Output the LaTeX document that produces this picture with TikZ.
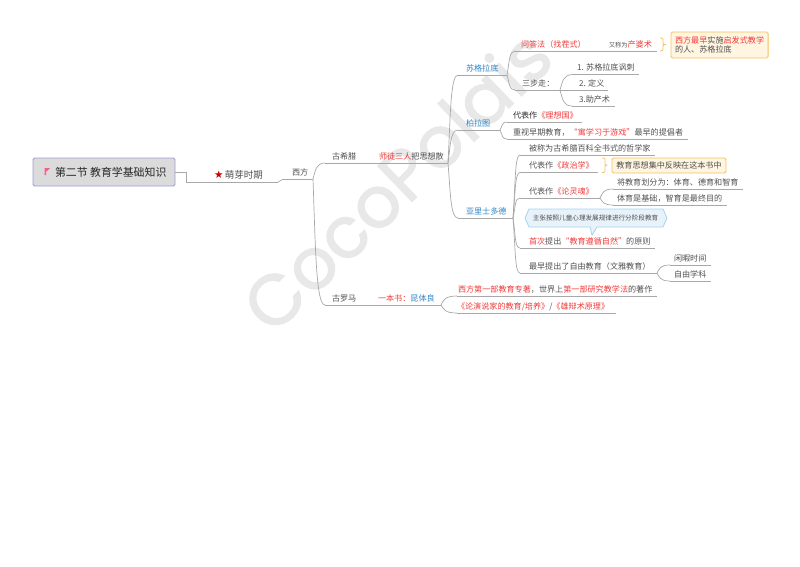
\documentclass[tikz,border=0pt]{standalone}
\usepackage{fontspec}
\setmainfont{Noto Sans CJK SC}
\newfontfamily\wmfont[FakeBold=1.6]{Poppins}
\newfontfamily\symfont{DejaVu Sans}
\usetikzlibrary{calc}
\definecolor{ink}{HTML}{505050}
\definecolor{redt}{HTML}{F03A3A}
\definecolor{bluet}{HTML}{2F86C5}
\definecolor{linec}{HTML}{A8A8A8}
\definecolor{orangeb}{HTML}{F5C060}
\definecolor{orangef}{HTML}{FFF5E0}
\definecolor{hexb}{HTML}{A5D4EC}
\definecolor{hexf}{HTML}{E8F2FA}
\newcommand{\rd}[1]{\textcolor{redt}{#1}}
\newcommand{\bl}[1]{\textcolor{bluet}{#1}}
\tikzset{
  x=1pt,y=-1pt,
  every node/.style={inner sep=0pt,outer sep=0pt,text=ink,font=\fontsize{8.1}{9.5}\selectfont},
  topic/.style={anchor=south west,inner xsep=0pt,inner ysep=2.5pt,text height=6.5pt,text depth=1.5pt},
  ul/.style={draw=linec,line width=0.7pt},
  link/.style={draw=linec,line width=0.7pt},
  note/.style={draw=orangeb,fill=orangef,rounded corners=1.5pt,line width=0.8pt,align=left,inner xsep=4pt,inner ysep=2pt},
  bracec/.style={draw=orangeb,line width=0.8pt,line join=round,rounded corners=1.2pt}
}
% name, x, y of underline, width, text offset, text
\newcommand{\tp}[6]{\node[topic] (#1) at (#2,#3) {\makebox[#4pt][l]{\hspace{#5pt}#6}};\draw[ul] (#1.south west) -- (#1.south east);}
\newcommand{\cv}[2]{\draw[link] (#1.south east) .. controls ($(#1.south east)!.55!(#1.south east |- #2.south west)+(2.5,0)$) and ($(#1.south east |- #2.south west)!.25!(#2.south west)$) .. (#2.south west);}
\begin{document}
\begin{tikzpicture}
\useasboundingbox (0,0) rectangle (800,566);
% watermark
\node[rotate=44,text=black!9,font=\wmfont\fontsize{71}{90}\selectfont] (wm) at (396,180) {CocoPolais};
% root
\node[minimum height=28pt,anchor=north west,fill=black!14,draw=blue!40!gray!55,rounded corners=1.5pt,line width=0.8pt,text=black!85,font=\fontsize{10.9}{12}\selectfont] (root) at (33,158) {\makebox[142pt][l]{\hspace{22pt}第二节 教育学基础知识}};
\fill[red!70!magenta!65!white] (44.5,168) -- (50,168) -- (47,171) -- (46,171) -- (46,175) -- (44.5,175) -- cycle;
% level 1
\tp{bud}{186}{182}{92}{28}{\textcolor{red!80!black}{\symfont\fontsize{10.5}{10}\selectfont ★}\,{\fontsize{9.5}{10}\selectfont 萌芽时期}}
\tp{west}{283}{179}{30}{9}{西方}
\tp{greece}{325}{163}{48}{7}{古希腊}
\tp{three}{373}{163}{75}{6}{\rd{师徒三人}把思想散}
\tp{rome}{325}{305}{48}{7}{古罗马}
\tp{book}{373}{305}{68}{5}{\rd{一本书：}\bl{昆体良}}
\draw[link] (root.east) -- (186,172) -- (bud.south west);
\draw[link] (bud.south east) .. controls +(3,0) and +(-2,0) .. (west.south west);
\cv{west}{greece}
\cv{west}{rome}
% philosophers
\tp{socr}{458}{75}{49}{8}{\bl{苏格拉底}}
\tp{plato}{458}{130}{42}{8}{\bl{柏拉图}}
\tp{arist}{458}{218}{55}{8}{\bl{亚里士多德}}
\cv{three}{socr}\cv{three}{plato}\cv{three}{arist}
% socrates
\tp{ask}{515}{51}{85}{6}{\rd{问答法（找茬式）}}
\tp{ask2}{600}{51}{57}{9}{{\fontsize{6.2}{7}\selectfont 又称为}\rd{产婆术}}
\tp{steps}{515}{90}{45}{7}{三步走：}
\tp{s1}{573}{74.5}{66}{4}{1. 苏格拉底讽刺}
\tp{s2}{560}{90}{48}{19}{2. 定义}
\tp{s3}{572}{106}{43}{7}{3.助产术}
\cv{socr}{ask}\cv{socr}{steps}
\cv{steps}{s1}\cv{steps}{s3}
\node[note,anchor=north west,minimum width=97pt,minimum height=26pt] (n1) at (671,32) {\rd{西方最早}实施\rd{启发式教学}\\的人、苏格拉底};
\draw[bracec] (660,38) -- (663,38) -- (663,44.5) -- (667,44.5) -- (663,44.5) -- (663,51) -- (660,51);
% plato
\tp{p1}{507}{122}{75}{6}{\textcolor{black!85}{代表作}\rd{《理想国》}}
\tp{p2}{507}{139}{181}{6}{重视早期教育，\rd{“寓学习于游戏”}最早的提倡者}
\cv{plato}{p1}\cv{plato}{p2}
% aristotle
\tp{a1}{520}{155}{135}{9}{被称为古希腊百科全书式的哲学家}
\tp{a2}{520}{172.5}{78}{9}{代表作\rd{《政治学》}}
\tp{a3}{520}{198}{80}{9}{代表作\rd{《论灵魂》}}
\tp{a4}{520}{248}{135}{9}{\rd{首次}提出\rd{“教育遵循自然”}的原则}
\tp{a5}{520}{273}{137}{9}{最早提出了自由教育（文雅教育）}
\tp{a31}{613}{189}{130}{4}{将教育划分为：体育、德育和智育}
\tp{a32}{613}{205}{114}{4}{体育是基础，智育是最终目的}
\tp{a51}{670}{265}{41}{4}{闲暇时间}
\tp{a52}{670}{281}{41}{4}{自由学科}
\cv{arist}{a1}\cv{arist}{a2}\cv{arist}{a3}\cv{arist}{a4}\cv{arist}{a5}
\cv{a3}{a31}\cv{a3}{a32}
\cv{a5}{a51}\cv{a5}{a52}
\node[note,anchor=north west,minimum width=114pt,minimum height=15pt] (n2) at (612,158) {教育思想集中反映在这本书中};
\draw[bracec] (602,158) -- (605,158) -- (605,165.2) -- (608.5,165.2) -- (605,165.2) -- (605,172.5) -- (602,172.5);
% hex callout
\draw[draw=hexb,fill=hexf,line width=0.8pt] (525,218) -- (529,209) -- (663,209) -- (667,218) -- (663,227) -- (597,227) -- (592,235) -- (590,227) -- (529,227) -- cycle;
\node[font=\fontsize{6.6}{7}\selectfont] (hex) at (595.5,218) {主张按照儿童心理发展规律进行分阶段教育};
% rome
\tp{r1}{457}{296}{200}{1}{\rd{西方第一部教育专著}，世界上\rd{第一部研究教学法}的著作}
\tp{r2}{457}{313}{159}{0}{\rd{《论演说家的教育/培养》}/\rd{《雄辩术原理》}}
\cv{book}{r1}\cv{book}{r2}
\end{tikzpicture}
\end{document}
